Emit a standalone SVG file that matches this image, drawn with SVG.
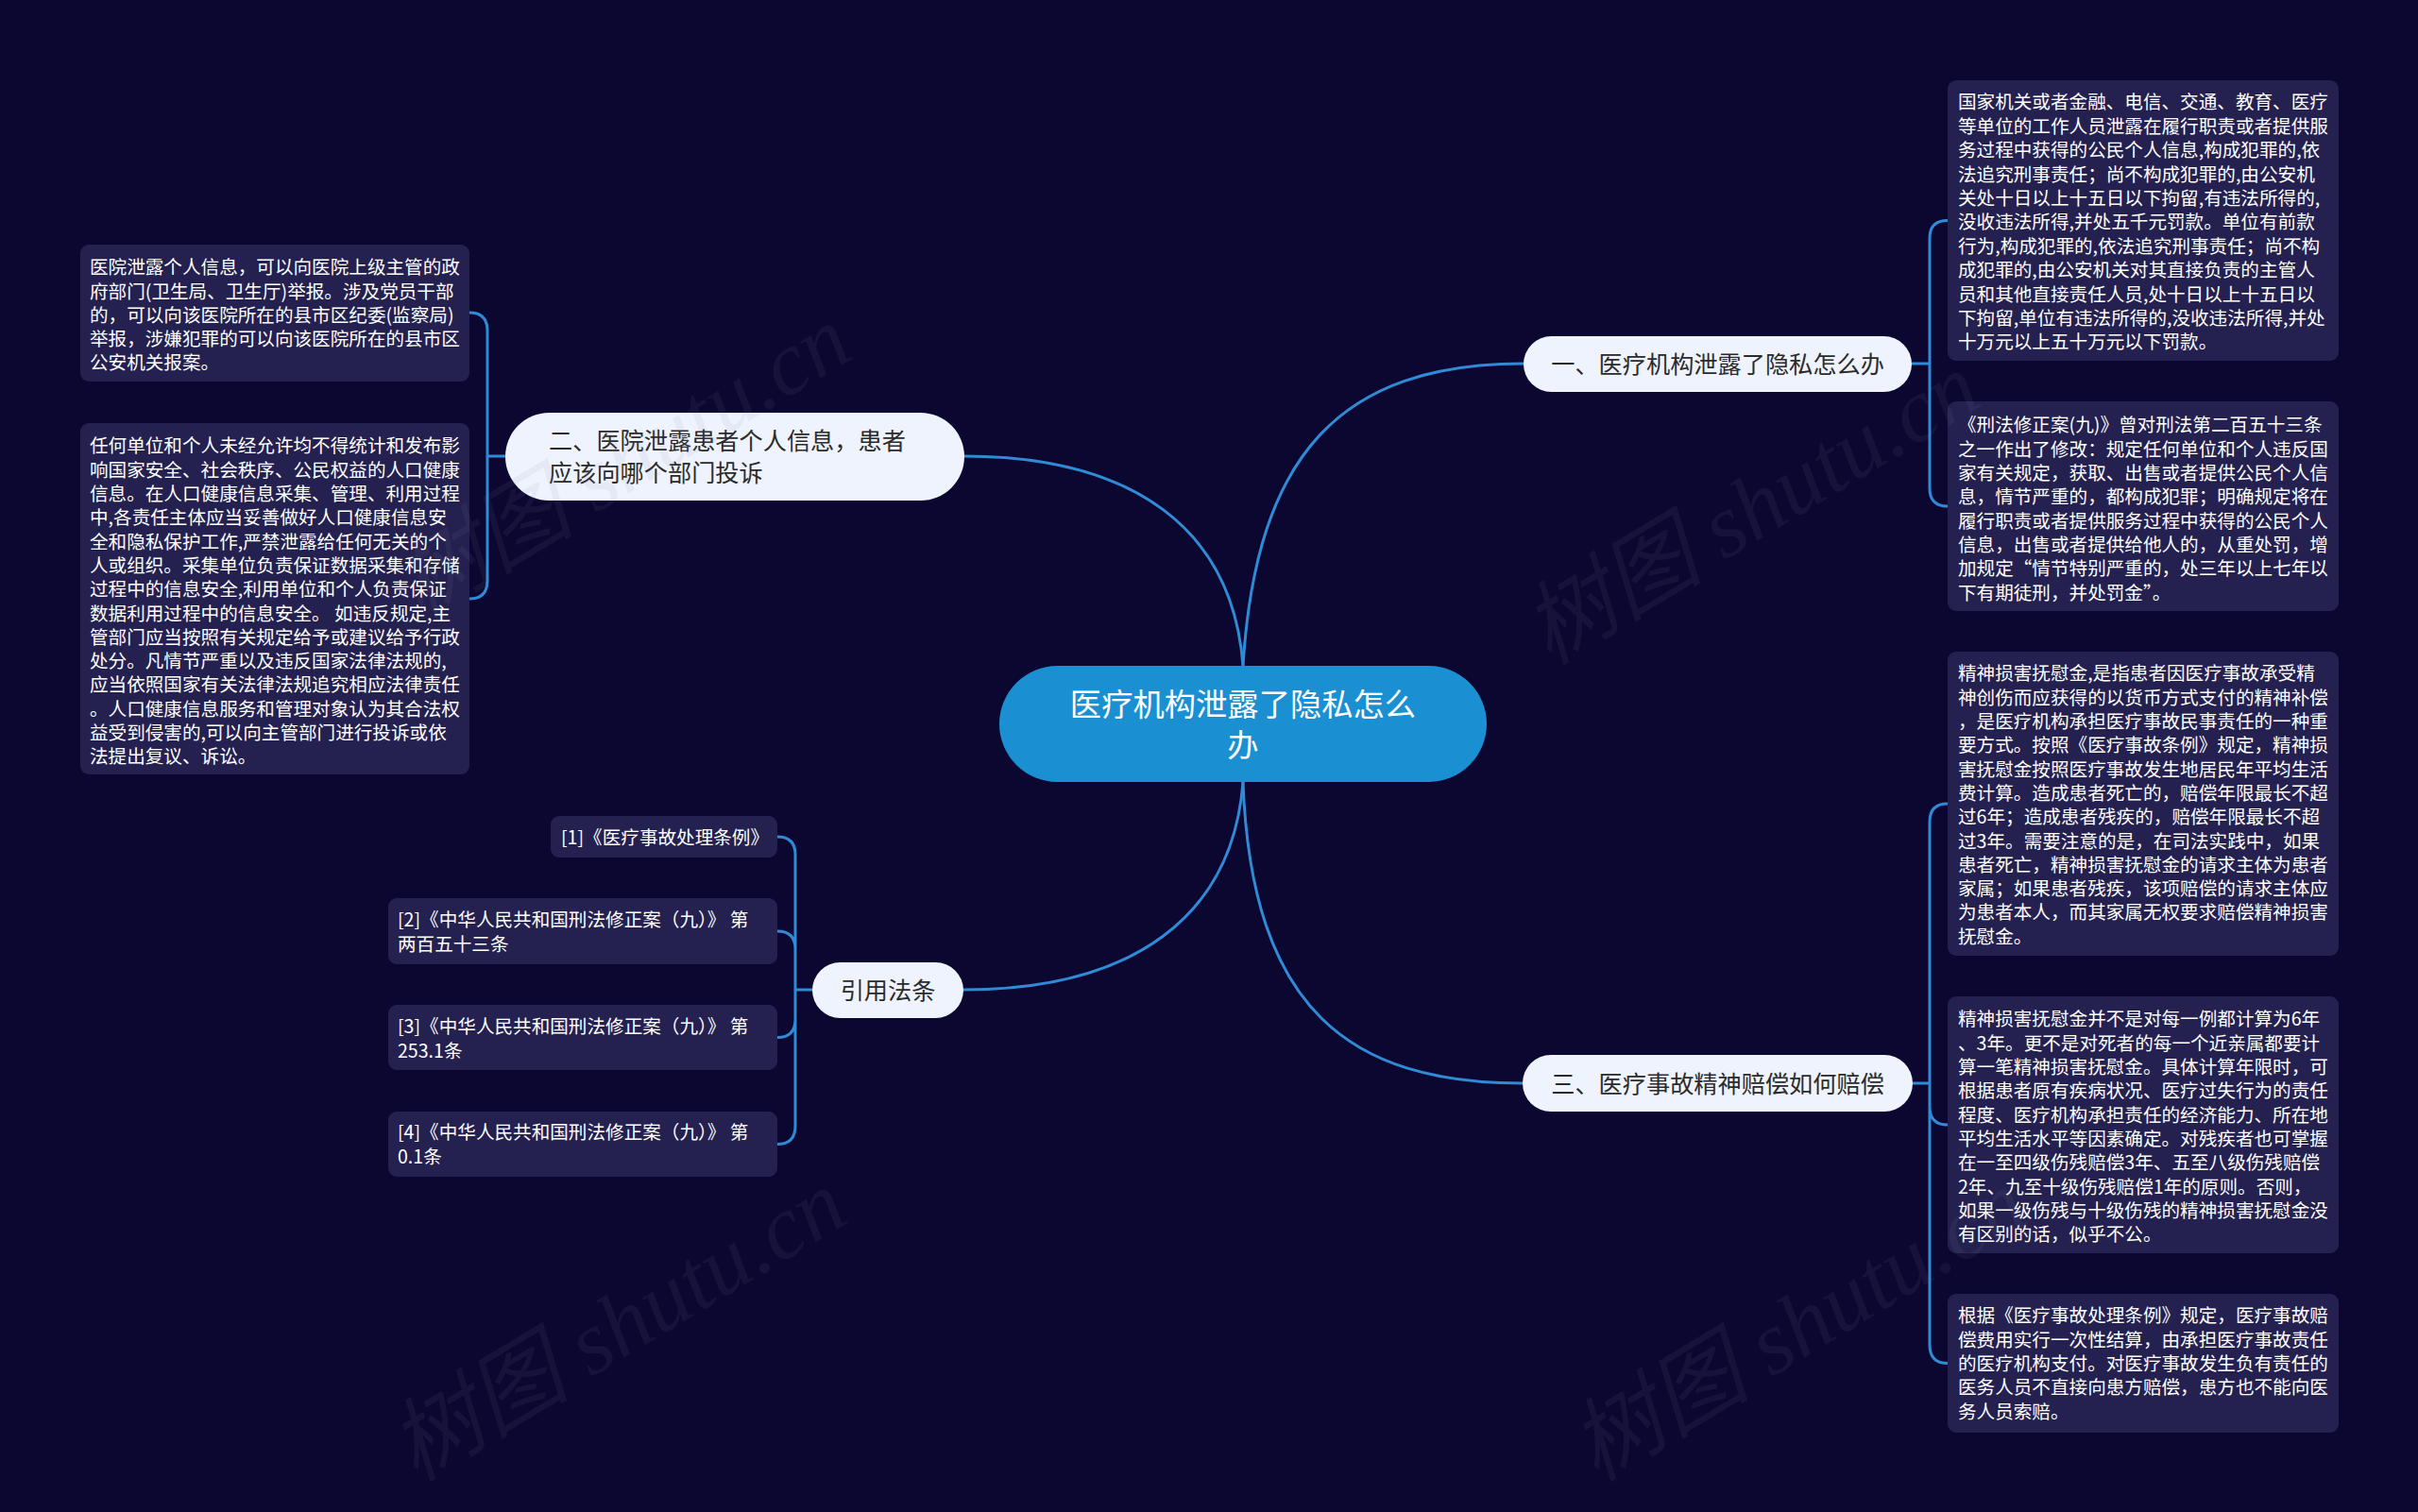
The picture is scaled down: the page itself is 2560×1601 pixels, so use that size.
<svg xmlns="http://www.w3.org/2000/svg" width="2560" height="1601" viewBox="0 0 2560 1601">
<style>
.bg{fill:#0b0730}
.leaf{fill:#242150}
.lt{font-family:"Noto Sans CJK SC","Noto Sans",sans-serif;font-size:19.6px;fill:#ffffff}
.br{fill:#eef3fd}
.bt{font-family:"Noto Sans CJK SC","Noto Sans",sans-serif;font-size:25.2px;fill:#2b2b2b}
.ct{font-family:"Noto Sans CJK SC","Noto Sans",sans-serif;font-size:33.3px;fill:#ffffff}
.ln{fill:none;stroke:#2f8bd6;stroke-width:3;stroke-linecap:round}
.wm{font-family:"Liberation Serif","Noto Sans CJK SC",serif;font-size:96px;font-style:italic;fill:#8a8aa8;fill-opacity:0.09}
</style>
<rect class="bg" x="0" y="0" width="2560" height="1601"/>
<g id="connectors">
<path class="ln" d="M1316,705 C1330,480 1420,385 1613,385"/>
<path class="ln" d="M1316,705 C1305,560 1200,483 1020,483"/>
<path class="ln" d="M1316,828 C1325,1070 1430,1147 1612,1147"/>
<path class="ln" d="M1316,828 C1305,970 1200,1048 1020,1048"/>
<path class="ln" d="M2024,385 H2043 M2043,385 V252 Q2043,233.5 2062,233.5 M2043,385 V517 Q2043,536 2062,536"/>
<path class="ln" d="M2025,1147 H2043 M2043,1147 V870 Q2043,851 2062,851 M2043,1147 V1172 Q2043,1191 2062,1191 M2043,1147 V1424 Q2043,1443.5 2062,1443.5"/>
<path class="ln" d="M535,483 H516 M516,483 V350 Q516,331 497,331 M516,483 V615 Q516,634 497,634"/>
<path class="ln" d="M860,1048 H842 M842,1048 V905 Q842,886 823,886 M842,1048 V1005 Q842,986 823,986 M842,1048 V1079 Q842,1098.5 823,1098.5 M842,1048 V1192 Q842,1211.5 823,1211.5"/>
</g>
<g id="center">
<rect x="1058" y="705" width="516" height="123" rx="61.5" fill="#1a8fd2"/>
<text class="ct" x="1316" y="758" text-anchor="middle"><tspan x="1316">医疗机构泄露了隐私怎么</tspan><tspan x="1316" dy="43">办</tspan></text>
</g>
<g id="branch1">
<rect class="br" x="1613" y="356" width="411" height="59" rx="29.5"/>
<text class="bt" x="1818.5" y="394.5" text-anchor="middle">一、医疗机构泄露了隐私怎么办</text>
</g>
<g id="branch2">
<rect class="br" x="535" y="437" width="486" height="93" rx="46.5"/>
<text class="bt" x="581" y="475.5"><tspan x="581">二、医院泄露患者个人信息，患者</tspan><tspan x="581" dy="34">应该向哪个部门投诉</tspan></text>
</g>
<g id="branch3">
<rect class="br" x="1612" y="1117" width="413" height="60" rx="30"/>
<text class="bt" x="1818.5" y="1156.5" text-anchor="middle">三、医疗事故精神赔偿如何赔偿</text>
</g>
<g id="branch4">
<rect class="br" x="860" y="1019" width="160" height="59" rx="29.5"/>
<text class="bt" x="940" y="1057.5" text-anchor="middle">引用法条</text>
</g>
<g id="leaf1a">
<rect class="leaf" x="2062" y="85" width="414" height="297" rx="9"/>
<text class="lt" x="2073" y="115.4">
<tspan x="2073">国家机关或者金融、电信、交通、教育、医疗</tspan>
<tspan x="2073" dy="25.4">等单位的工作人员泄露在履行职责或者提供服</tspan>
<tspan x="2073" dy="25.4">务过程中获得的公民个人信息,构成犯罪的,依</tspan>
<tspan x="2073" dy="25.4">法追究刑事责任；尚不构成犯罪的,由公安机</tspan>
<tspan x="2073" dy="25.4">关处十日以上十五日以下拘留,有违法所得的,</tspan>
<tspan x="2073" dy="25.4">没收违法所得,并处五千元罚款。单位有前款</tspan>
<tspan x="2073" dy="25.4">行为,构成犯罪的,依法追究刑事责任；尚不构</tspan>
<tspan x="2073" dy="25.4">成犯罪的,由公安机关对其直接负责的主管人</tspan>
<tspan x="2073" dy="25.4">员和其他直接责任人员,处十日以上十五日以</tspan>
<tspan x="2073" dy="25.4">下拘留,单位有违法所得的,没收违法所得,并处</tspan>
<tspan x="2073" dy="25.4">十万元以上五十万元以下罚款。</tspan>
</text>
</g>
<g id="leaf1b">
<rect class="leaf" x="2062" y="425" width="414" height="222" rx="9"/>
<text class="lt" x="2073" y="457.4">
<tspan x="2073">《刑法修正案(九)》曾对刑法第二百五十三条</tspan>
<tspan x="2073" dy="25.3">之一作出了修改：规定任何单位和个人违反国</tspan>
<tspan x="2073" dy="25.3">家有关规定，获取、出售或者提供公民个人信</tspan>
<tspan x="2073" dy="25.3">息，情节严重的，都构成犯罪；明确规定将在</tspan>
<tspan x="2073" dy="25.3">履行职责或者提供服务过程中获得的公民个人</tspan>
<tspan x="2073" dy="25.3">信息，出售或者提供给他人的，从重处罚，增</tspan>
<tspan x="2073" dy="25.3">加规定“情节特别严重的，处三年以上七年以</tspan>
<tspan x="2073" dy="25.3">下有期徒刑，并处罚金”。</tspan>
</text>
</g>
<g id="leaf3a">
<rect class="leaf" x="2062" y="690" width="414" height="322" rx="9"/>
<text class="lt" x="2073" y="720.4">
<tspan x="2073">精神损害抚慰金,是指患者因医疗事故承受精</tspan>
<tspan x="2073" dy="25.3">神创伤而应获得的以货币方式支付的精神补偿</tspan>
<tspan x="2073" dy="25.3">，是医疗机构承担医疗事故民事责任的一种重</tspan>
<tspan x="2073" dy="25.3">要方式。按照《医疗事故条例》规定，精神损</tspan>
<tspan x="2073" dy="25.3">害抚慰金按照医疗事故发生地居民年平均生活</tspan>
<tspan x="2073" dy="25.3">费计算。造成患者死亡的，赔偿年限最长不超</tspan>
<tspan x="2073" dy="25.3">过6年；造成患者残疾的，赔偿年限最长不超</tspan>
<tspan x="2073" dy="25.3">过3年。需要注意的是，在司法实践中，如果</tspan>
<tspan x="2073" dy="25.3">患者死亡，精神损害抚慰金的请求主体为患者</tspan>
<tspan x="2073" dy="25.3">家属；如果患者残疾，该项赔偿的请求主体应</tspan>
<tspan x="2073" dy="25.3">为患者本人，而其家属无权要求赔偿精神损害</tspan>
<tspan x="2073" dy="25.3">抚慰金。</tspan>
</text>
</g>
<g id="leaf3b">
<rect class="leaf" x="2062" y="1055" width="414" height="272" rx="9"/>
<text class="lt" x="2073" y="1086.4">
<tspan x="2073">精神损害抚慰金并不是对每一例都计算为6年</tspan>
<tspan x="2073" dy="25.3">、3年。更不是对死者的每一个近亲属都要计</tspan>
<tspan x="2073" dy="25.3">算一笔精神损害抚慰金。具体计算年限时，可</tspan>
<tspan x="2073" dy="25.3">根据患者原有疾病状况、医疗过失行为的责任</tspan>
<tspan x="2073" dy="25.3">程度、医疗机构承担责任的经济能力、所在地</tspan>
<tspan x="2073" dy="25.3">平均生活水平等因素确定。对残疾者也可掌握</tspan>
<tspan x="2073" dy="25.3">在一至四级伤残赔偿3年、五至八级伤残赔偿</tspan>
<tspan x="2073" dy="25.3">2年、九至十级伤残赔偿1年的原则。否则，</tspan>
<tspan x="2073" dy="25.3">如果一级伤残与十级伤残的精神损害抚慰金没</tspan>
<tspan x="2073" dy="25.3">有区别的话，似乎不公。</tspan>
</text>
</g>
<g id="leaf3c">
<rect class="leaf" x="2062" y="1370" width="414" height="147" rx="9"/>
<text class="lt" x="2073" y="1400.4">
<tspan x="2073">根据《医疗事故处理条例》规定，医疗事故赔</tspan>
<tspan x="2073" dy="25.3">偿费用实行一次性结算，由承担医疗事故责任</tspan>
<tspan x="2073" dy="25.3">的医疗机构支付。对医疗事故发生负有责任的</tspan>
<tspan x="2073" dy="25.3">医务人员不直接向患方赔偿，患方也不能向医</tspan>
<tspan x="2073" dy="25.3">务人员索赔。</tspan>
</text>
</g>
<g id="leaf2a">
<rect class="leaf" x="85" y="259" width="412" height="145" rx="9"/>
<text class="lt" x="95" y="290.4">
<tspan x="95">医院泄露个人信息，可以向医院上级主管的政</tspan>
<tspan x="95" dy="25.2">府部门(卫生局、卫生厅)举报。涉及党员干部</tspan>
<tspan x="95" dy="25.2">的，可以向该医院所在的县市区纪委(监察局)</tspan>
<tspan x="95" dy="25.2">举报，涉嫌犯罪的可以向该医院所在的县市区</tspan>
<tspan x="95" dy="25.2">公安机关报案。</tspan>
</text>
</g>
<g id="leaf2b">
<rect class="leaf" x="85" y="448" width="412" height="372" rx="9"/>
<text class="lt" x="95" y="479.4">
<tspan x="95">任何单位和个人未经允许均不得统计和发布影</tspan>
<tspan x="95" dy="25.3">响国家安全、社会秩序、公民权益的人口健康</tspan>
<tspan x="95" dy="25.3">信息。在人口健康信息采集、管理、利用过程</tspan>
<tspan x="95" dy="25.3">中,各责任主体应当妥善做好人口健康信息安</tspan>
<tspan x="95" dy="25.3">全和隐私保护工作,严禁泄露给任何无关的个</tspan>
<tspan x="95" dy="25.3">人或组织。采集单位负责保证数据采集和存储</tspan>
<tspan x="95" dy="25.3">过程中的信息安全,利用单位和个人负责保证</tspan>
<tspan x="95" dy="25.3">数据利用过程中的信息安全。 如违反规定,主</tspan>
<tspan x="95" dy="25.3">管部门应当按照有关规定给予或建议给予行政</tspan>
<tspan x="95" dy="25.3">处分。凡情节严重以及违反国家法律法规的,</tspan>
<tspan x="95" dy="25.3">应当依照国家有关法律法规追究相应法律责任</tspan>
<tspan x="95" dy="25.3">。人口健康信息服务和管理对象认为其合法权</tspan>
<tspan x="95" dy="25.3">益受到侵害的,可以向主管部门进行投诉或依</tspan>
<tspan x="95" dy="25.3">法提出复议、诉讼。</tspan>
</text>
</g>
<g id="ref1">
<rect class="leaf" x="583" y="864" width="240" height="44" rx="9"/>
<text class="lt" x="594" y="894.4">[1]《医疗事故处理条例》</text>
</g>
<g id="ref2">
<rect class="leaf" x="411" y="951" width="412" height="70" rx="9"/>
<text class="lt" x="421" y="981.4">
<tspan x="421">[2]《中华人民共和国刑法修正案（九）》 第</tspan>
<tspan x="421" dy="26">两百五十三条</tspan>
</text>
</g>
<g id="ref3">
<rect class="leaf" x="411" y="1064" width="412" height="69" rx="9"/>
<text class="lt" x="421" y="1094.4">
<tspan x="421">[3]《中华人民共和国刑法修正案（九）》 第</tspan>
<tspan x="421" dy="25.5">253.1条</tspan>
</text>
</g>
<g id="ref4">
<rect class="leaf" x="411" y="1177" width="412" height="69" rx="9"/>
<text class="lt" x="421" y="1206.4">
<tspan x="421">[4]《中华人民共和国刑法修正案（九）》 第</tspan>
<tspan x="421" dy="25.5">0.1条</tspan>
</text>
</g>
<g id="watermarks">
<text class="wm" transform="translate(445,655) rotate(-31)">树图 shutu.cn</text>
<text class="wm" transform="translate(1640,705) rotate(-31)">树图 shutu.cn</text>
<text class="wm" transform="translate(440,1570) rotate(-31)">树图 shutu.cn</text>
<text class="wm" transform="translate(1690,1570) rotate(-31)">树图 shutu.cn</text>
</g>
</svg>
